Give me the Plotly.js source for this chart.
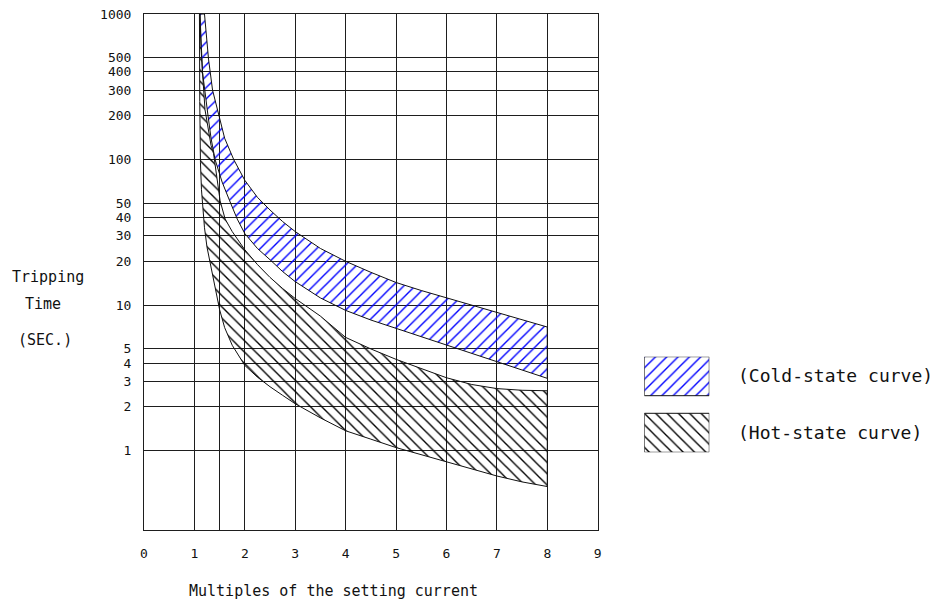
<!DOCTYPE html>
<html>
<head>
<meta charset="utf-8">
<script src="https://cdn.plot.ly/plotly-3.0.1.min.js"></script>
<style>html,body{margin:0;padding:0;background:#fff;}#chart{width:937px;height:604px;}</style>
</head>
<body>
<div id="chart"></div>
<script>
// ---- data ----
// Cold-state band: upper and lower curves
const coldUpperX = [1.20, 1.24, 1.28, 1.36, 1.48, 1.6, 1.78, 2.0, 2.25, 2.5, 2.75, 3.0, 3.5, 4.0, 4.5, 5.0, 5.5, 6.0, 6.5, 7.0, 7.5, 8.0];
const coldUpperY = [1000, 700, 490, 300, 200, 140, 100, 72, 55, 45, 37.5, 32, 24.5, 20, 16.8, 14.3, 12.6, 11.2, 10.0, 8.87, 7.9, 7.07];
const coldLowerX = [1.11, 1.13, 1.16, 1.21, 1.27, 1.33, 1.41, 1.55, 1.7, 1.85, 2.0, 2.25, 2.5, 2.75, 3.0, 3.5, 4.0, 4.5, 5.0, 5.5, 6.0, 6.5, 7.0, 7.5, 8.0];
const coldLowerY = [1000, 600, 400, 280, 200, 140, 100, 70, 52, 39, 31, 24.5, 20.5, 17, 14.5, 11.2, 9.2, 7.9, 6.92, 6.05, 5.31, 4.65, 4.06, 3.58, 3.14];
// Hot-state band: upper and lower curves
const hotUpperX = [1.11, 1.13, 1.16, 1.21, 1.27, 1.33, 1.38, 1.45, 1.51, 1.61, 1.75, 2.0, 2.25, 2.5, 2.75, 3.0, 3.5, 4.0, 4.5, 5.0, 5.5, 6.0, 6.5, 7.0, 7.5, 8.0];
const hotUpperY = [1000, 600, 400, 220, 160, 125, 110, 70, 52, 39, 32, 24, 19, 15.5, 13, 11.1, 8.4, 6.0, 5.0, 4.24, 3.65, 3.17, 2.85, 2.67, 2.6, 2.58];
const hotLowerX = [1.10, 1.103, 1.106, 1.11, 1.12, 1.14, 1.17, 1.2, 1.25, 1.3, 1.4, 1.5, 1.6, 1.75, 2.0, 2.25, 2.5, 2.75, 3.0, 3.5, 4.0, 4.5, 5.0, 5.5, 6.0, 6.5, 7.0, 7.5, 8.0];
const hotLowerY = [1000, 500, 250, 150, 95, 62, 44, 34, 25, 20, 13.5, 9.3, 7.0, 5.3, 3.85, 3.2, 2.75, 2.4, 2.1, 1.68, 1.37, 1.2, 1.05, 0.93, 0.83, 0.75, 0.67, 0.61, 0.567];

const xTickVals = [0, 1, 1.5, 2, 3, 4, 5, 6, 7, 8, 9];
const xTickText = ['0', '1', '', '2', '3', '4', '5', '6', '7', '8', '9'];
const yTickVals = [1, 2, 3, 4, 5, 10, 20, 30, 40, 50, 100, 200, 300, 400, 500, 1000];
const yTickText = ['1', '2', '3', '4', '5', '10', '20', '30', '40', '50', '100', '200', '300', '400', '500', '1000'];

const legendLabels = ['(Cold-state curve)', '(Hot-state curve)'];
const yTitleLines = ['Tripping', 'Time', '(SEC.)'];
const xTitle = 'Multiples of the setting current';

// ---- styling ----
const FONT = '"DejaVu Sans Mono", monospace';
const INK = '#111111';
const GRID = '#1e1e1e';
const COLD = '#0000ff';
const HOT = '#000000';

function band(ux, uy, lx, ly) {
  const x = ux.concat(lx.slice().reverse(), [ux[0]]);
  const y = uy.concat(ly.slice().reverse(), [uy[0]]);
  return {x, y};
}
const hot = band(hotUpperX, hotUpperY, hotLowerX, hotLowerY);
const cold = band(coldUpperX, coldUpperY, coldLowerX, coldLowerY);

function pattern(shape, color) {
  return {shape: shape, fgcolor: color, bgcolor: 'rgba(0,0,0,0)', size: 8, solidity: 0.17, fillmode: 'replace'};
}

// legend swatch geometry (layout, in the legend's own 0..1 box)
const swatch = {x0: 0, x1: 1, top: [0.592, 1], bottom: [0, 0.408]};
function rect(yr) {
  return {x: [swatch.x0, swatch.x1, swatch.x1, swatch.x0, swatch.x0], y: [yr[0], yr[0], yr[1], yr[1], yr[0]]};
}
const swCold = rect(swatch.top), swHot = rect(swatch.bottom);

const traces = [
  {x: hot.x, y: hot.y, name: 'Hot-state curve', type: 'scatter', mode: 'lines', fill: 'toself',
   fillcolor: 'rgba(0,0,0,0)', fillpattern: pattern('\\', HOT), line: {color: INK, width: 1}, hoverinfo: 'skip'},
  {x: cold.x, y: cold.y, name: 'Cold-state curve', type: 'scatter', mode: 'lines', fill: 'toself',
   fillcolor: 'rgba(0,0,0,0)', fillpattern: pattern('/', COLD), line: {color: INK, width: 1}, hoverinfo: 'skip'},
  {x: swCold.x, y: swCold.y, xaxis: 'x2', yaxis: 'y2', type: 'scatter', mode: 'lines', fill: 'toself',
   fillcolor: 'rgba(0,0,0,0)', fillpattern: pattern('/', COLD), line: {color: INK, width: 1}, hoverinfo: 'skip'},
  {x: swHot.x, y: swHot.y, xaxis: 'x2', yaxis: 'y2', type: 'scatter', mode: 'lines', fill: 'toself',
   fillcolor: 'rgba(0,0,0,0)', fillpattern: pattern('\\', HOT), line: {color: INK, width: 1}, hoverinfo: 'skip'}
];

const W = 937, H = 604, ML = 144, MR = 7, MT = 14, MB = 74;
const PW = W - ML - MR, PH = H - MT - MB;
const px = v => (v - ML) / PW;          // pixel x -> paper x
const py = v => (H - MB - v) / PH;      // pixel y -> paper y

const annotations = [];
legendLabels.forEach((t, i) => {
  annotations.push({text: t, xref: 'paper', yref: 'paper', x: px(736), y: py(i === 0 ? 375 : 432),
    xanchor: 'left', yanchor: 'middle', showarrow: false, font: {family: FONT, size: 18, color: INK}});
});
const yTitlePos = [[47.5, 277], [42.5, 304], [45, 340]];
yTitleLines.forEach((t, i) => {
  annotations.push({text: t, xref: 'paper', yref: 'paper', x: px(yTitlePos[i][0]), y: py(yTitlePos[i][1]),
    xanchor: 'center', yanchor: 'middle', showarrow: false, font: {family: FONT, size: 15, color: INK}});
});
annotations.push({text: xTitle, xref: 'paper', yref: 'paper', x: px(333), y: py(591),
  xanchor: 'center', yanchor: 'middle', showarrow: false, font: {family: FONT, size: 15, color: INK}});

const layout = {
  width: W, height: H,
  margin: {l: ML, r: MR, t: MT, b: MB, pad: 0},
  paper_bgcolor: '#ffffff', plot_bgcolor: '#ffffff',
  showlegend: false,
  xaxis: {domain: [0, px(597.7)], range: [0, 9], tickmode: 'array', tickvals: xTickVals, ticktext: xTickText,
    showgrid: true, gridcolor: GRID, gridwidth: 1, zeroline: false, showline: true, mirror: true,
    linecolor: GRID, linewidth: 1, ticks: '', ticklabelstandoff: 11,
    tickfont: {family: FONT, size: 13, color: INK}, fixedrange: true},
  yaxis: {type: 'log', range: [-0.545, 3], tickmode: 'array', tickvals: yTickVals, ticktext: yTickText,
    showgrid: true, gridcolor: GRID, gridwidth: 1, zeroline: false, showline: true, mirror: true,
    linecolor: GRID, linewidth: 1, ticks: '', ticklabelstandoff: 9,
    tickfont: {family: FONT, size: 13, color: INK}, fixedrange: true},
  xaxis2: {domain: [px(644.3), px(709.3)], range: [0, 1], visible: false, anchor: 'y2', fixedrange: true},
  yaxis2: {domain: [py(452.3), py(356.7)], range: [0, 1], visible: false, anchor: 'x2', fixedrange: true},
  annotations: annotations
};

Plotly.newPlot('chart', traces, layout, {staticPlot: true, displayModeBar: false});
</script>
</body>
</html>
